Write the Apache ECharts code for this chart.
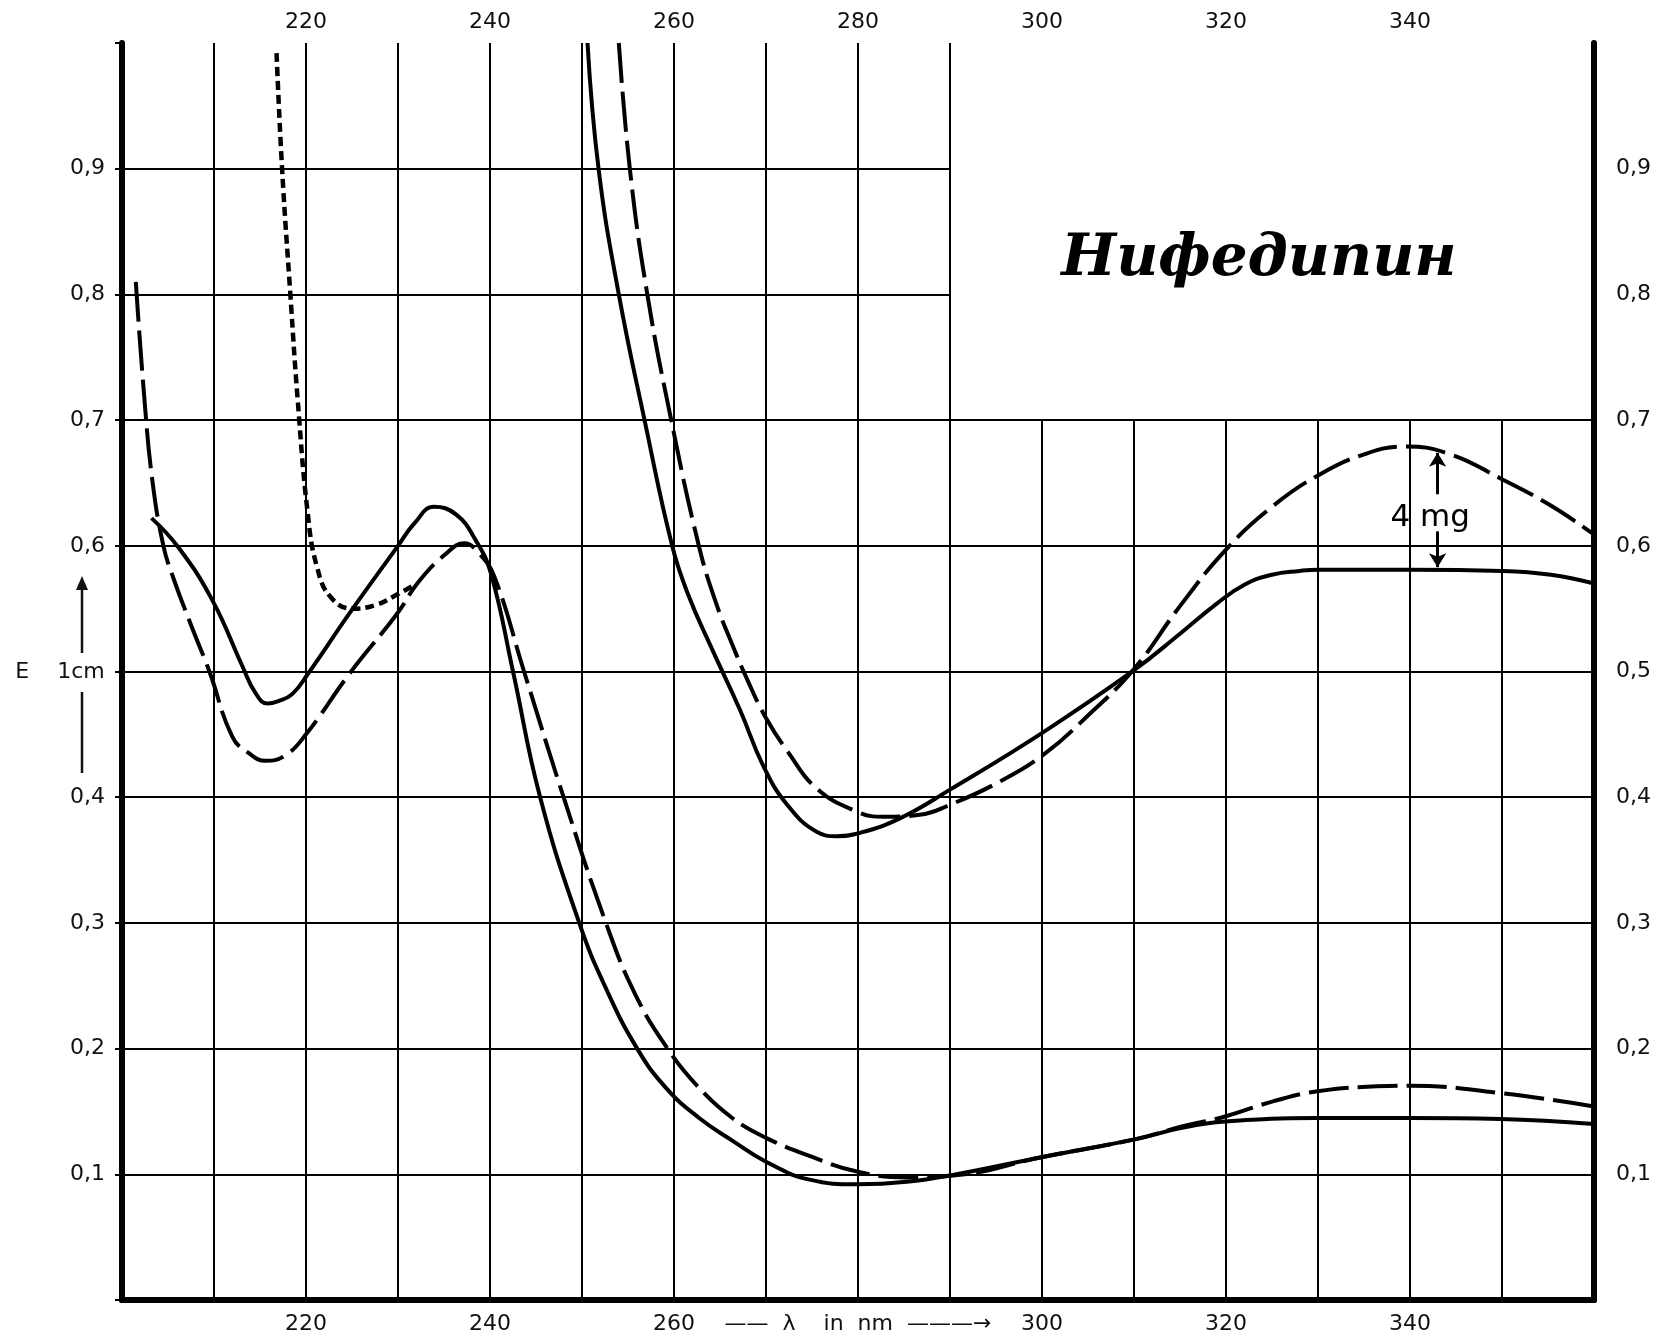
<!DOCTYPE html>
<html>
<head>
<meta charset="utf-8">
<script src="https://cdn.jsdelivr.net/npm/echarts@6/dist/echarts.min.js"></script>
<style>
  html, body { margin: 0; padding: 0; background: #fff; }
  #chart { width: 1664px; height: 1337px; }
</style>
</head>
<body>
<div id="chart"></div>
<script>
// [wavelength nm, E] pairs
const solidLow = [[203.2,0.622],[206.1,0.599],[209.8,0.557],[213.1,0.504],[214.5,0.483],[215.8,0.4745],[217,0.4765],[218.5,0.482],[220.2,0.498],[224.7,0.546],[229.9,0.599],[231.8,0.618],[233.9,0.631],[236.3,0.625],[238.4,0.605],[240.1,0.578],[242.5,0.5],[245.45,0.4],[249.7,0.3],[252.6,0.248],[256,0.2],[259.1,0.169],[262.7,0.145],[266.3,0.127],[270,0.11],[274.6,0.096],[280,0.092],[285.3,0.094],[290.3,0.0995],[300.2,0.114],[310.2,0.128],[315.2,0.137],[319.9,0.142],[329.9,0.1447],[339.9,0.1447],[349.8,0.144],[360,0.14]];
const dashLow = [[201.5,0.81],[202.4,0.72],[203.3,0.652],[204.5,0.6],[205.6,0.574],[207.5,0.537],[209.5,0.5],[212,0.448],[213.8,0.435],[215.6,0.429],[217.7,0.433],[220,0.45],[224.7,0.498],[229.9,0.546],[232.2,0.571],[235.1,0.593],[237.2,0.602],[238.8,0.594],[240.5,0.575],[243.7,0.5],[248,0.4],[252.6,0.3],[255.8,0.243],[259.3,0.2],[262.7,0.169],[266.3,0.145],[270,0.129],[275.3,0.113],[280,0.102],[285.3,0.0975],[290.3,0.099],[300.2,0.114],[310.2,0.128],[315.2,0.138],[319.9,0.146],[325.1,0.158],[329.9,0.166],[336.4,0.17],[339.9,0.1705],[349.8,0.1646],[360,0.154]];
const dotLow = [[216.8,0.992],[217.4,0.9],[218.3,0.8],[219.1,0.716],[220.2,0.625],[221.2,0.583],[222.7,0.559],[225.1,0.55],[227.6,0.553],[230.1,0.562],[231.8,0.569]];
const solidHigh = [[250.6,1.0],[251.8,0.9],[254,0.8],[256.8,0.7],[259.8,0.6],[261.6,0.56],[264,0.52],[267.2,0.469],[269.7,0.425],[272.3,0.394],[275.5,0.3725],[277.7,0.369],[279.9,0.371],[284.5,0.383],[290,0.406],[300.2,0.452],[310,0.501],[315,0.53],[319,0.554],[322,0.569],[325,0.577],[328,0.58],[330,0.581],[340,0.581],[350,0.58],[355.3,0.577],[360,0.57]];
const dashHigh = [[254,1.0],[255.2,0.9],[257.1,0.8],[259.7,0.7],[262.7,0.6],[264.5,0.556],[266.3,0.522],[268,0.493],[270,0.463],[272.3,0.437],[275.5,0.407],[279.9,0.3885],[282.7,0.3845],[286.7,0.386],[290,0.394],[295.3,0.412],[300.2,0.434],[305,0.465],[310,0.502],[315,0.552],[320,0.597],[325,0.631],[330,0.656],[335.1,0.673],[339.5,0.679],[344.3,0.673],[350,0.653],[355.3,0.632],[360,0.609]];

const xGridTicks = [210,220,230,240,250,260,270,280,290,300,310,320,330,340,350];
const yGridTicks = [0.1,0.2,0.3,0.4,0.5,0.6,0.7,0.8,0.9];

const X_MIN = 200, X_MAX = 360, Y_MIN = 0, Y_MAX = 1;
const BOX_X = 290, BOX_Y = 0.7; // title box in the upper right has no grid

const font = 'DejaVu Sans';
const comma = v => v.toFixed(1).replace('.', ',');

const gridLines = [];
xGridTicks.forEach(x => {
  gridLines.push([{coord: [x, Y_MIN]}, {coord: [x, x > BOX_X ? BOX_Y : Y_MAX]}]);
});
yGridTicks.forEach(y => {
  gridLines.push([{coord: [X_MIN, y]}, {coord: [y > BOX_Y + 0.01 ? BOX_X : X_MAX, y]}]);
});

const curve = (name, data, type) => ({
  name, type: 'line', data, smooth: 0.45, symbol: 'none', z: 3,
  lineStyle: {color: '#000', width: type === 'dotted' ? 4.5 : 4,
    type: type === 'dashed' ? [40, 9] : type === 'dotted' ? [9, 5] : 'solid'}
});

const axisLbl = {fontSize: 22, fontFamily: font, color: '#111'};

const chart = echarts.init(document.getElementById('chart'));
chart.setOption({
  animation: false,
  backgroundColor: '#fff',
  grid: {left: 122, right: 70, top: 43, bottom: 37},
  xAxis: [{
    type: 'value', position: 'bottom', min: X_MIN, max: X_MAX, interval: 20,
    axisLine: {lineStyle: {color: '#000', width: 6}},
    axisTick: {show: false}, splitLine: {show: false},
    axisLabel: Object.assign({
      margin: 13, showMinLabel: false, showMaxLabel: false,
      formatter: v => v === 280 ? '——  λ    in  nm  ———→' : String(v)
    }, axisLbl)
  }, {
    type: 'value', position: 'top', min: X_MIN, max: X_MAX, interval: 20,
    axisLine: {lineStyle: {color: '#000', width: 6}},
    axisTick: {show: false}, splitLine: {show: false},
    axisLabel: Object.assign({margin: 10, showMinLabel: false, showMaxLabel: false}, axisLbl)
  }],
  yAxis: [{
    type: 'value', position: 'left', min: Y_MIN, max: Y_MAX, interval: 0.1,
    axisLine: {lineStyle: {color: '#000', width: 6}},
    axisTick: {show: true, length: 7, lineStyle: {color: '#000', width: 2}},
    splitLine: {show: false},
    // 0,5 on the left is replaced by the E 1cm caption
    axisLabel: Object.assign({margin: 17,
      formatter: v => (v <= 0 || v >= 1 || Math.abs(v - 0.5) < 1e-6) ? '' : comma(v)}, axisLbl)
  }, {
    type: 'value', position: 'right', min: Y_MIN, max: Y_MAX, interval: 0.1,
    axisLine: {lineStyle: {color: '#000', width: 6}},
    axisTick: {show: false}, splitLine: {show: false},
    axisLabel: Object.assign({margin: 22, formatter: v => (v <= 0 || v >= 1) ? '' : comma(v)}, axisLbl)
  }],
  series: [
    {
      name: 'grid', type: 'line', data: [], silent: true, z: 1,
      markLine: {
        silent: true, symbol: ['none', 'none'], animation: false,
        label: {show: false},
        lineStyle: {color: '#000', width: 2, type: 'solid'},
        emphasis: {disabled: true},
        data: gridLines
      }
    },
    curve('solidLow', solidLow, 'solid'),
    curve('dashLow', dashLow, 'dashed'),
    curve('dotLow', dotLow, 'dotted'),
    curve('solidHigh', solidHigh, 'solid'),
    Object.assign(curve('dashHigh', dashHigh, 'dashed'), {
      markLine: {
        silent: true, symbol: ['none', 'arrow'], symbolSize: [13, 14], animation: false,
        label: {show: false},
        lineStyle: {color: '#000', width: 3, type: 'solid'},
        emphasis: {disabled: true},
        data: [
          [{coord: [343, 0.641]}, {coord: [343, 0.674]}],
          [{coord: [343, 0.6115]}, {coord: [343, 0.583]}]
        ]
      },
      markPoint: {
        silent: true, symbol: 'circle', symbolSize: 0,
        label: {show: true, position: 'inside', formatter: '4 mg',
          fontSize: 31, fontFamily: font, color: '#000'},
        data: [{coord: [342.2, 0.622]}]
      }
    })
  ],
  graphic: [
    {type: 'text', x: 1259, y: 260, z: 10,
      style: {text: 'Нифедипин', fontFamily: 'DejaVu Serif', fontWeight: 'bold', fontStyle: 'italic',
        fontSize: 58, fill: '#000', align: 'center', verticalAlign: 'middle'}},
    {type: 'text', x: 60, y: 672,
      style: {text: 'E    1cm', fontFamily: font, fontSize: 22, fill: '#111', align: 'center', verticalAlign: 'middle'}},
    {type: 'line', shape: {x1: 82, y1: 653, x2: 82, y2: 586}, style: {stroke: '#111', lineWidth: 2.5}},
    {type: 'polygon', shape: {points: [[82, 576], [76, 590], [88, 590]]}, style: {fill: '#111'}},
    {type: 'line', shape: {x1: 82, y1: 692, x2: 82, y2: 773}, style: {stroke: '#111', lineWidth: 2.5}}
  ]
});
</script>
</body>
</html>
